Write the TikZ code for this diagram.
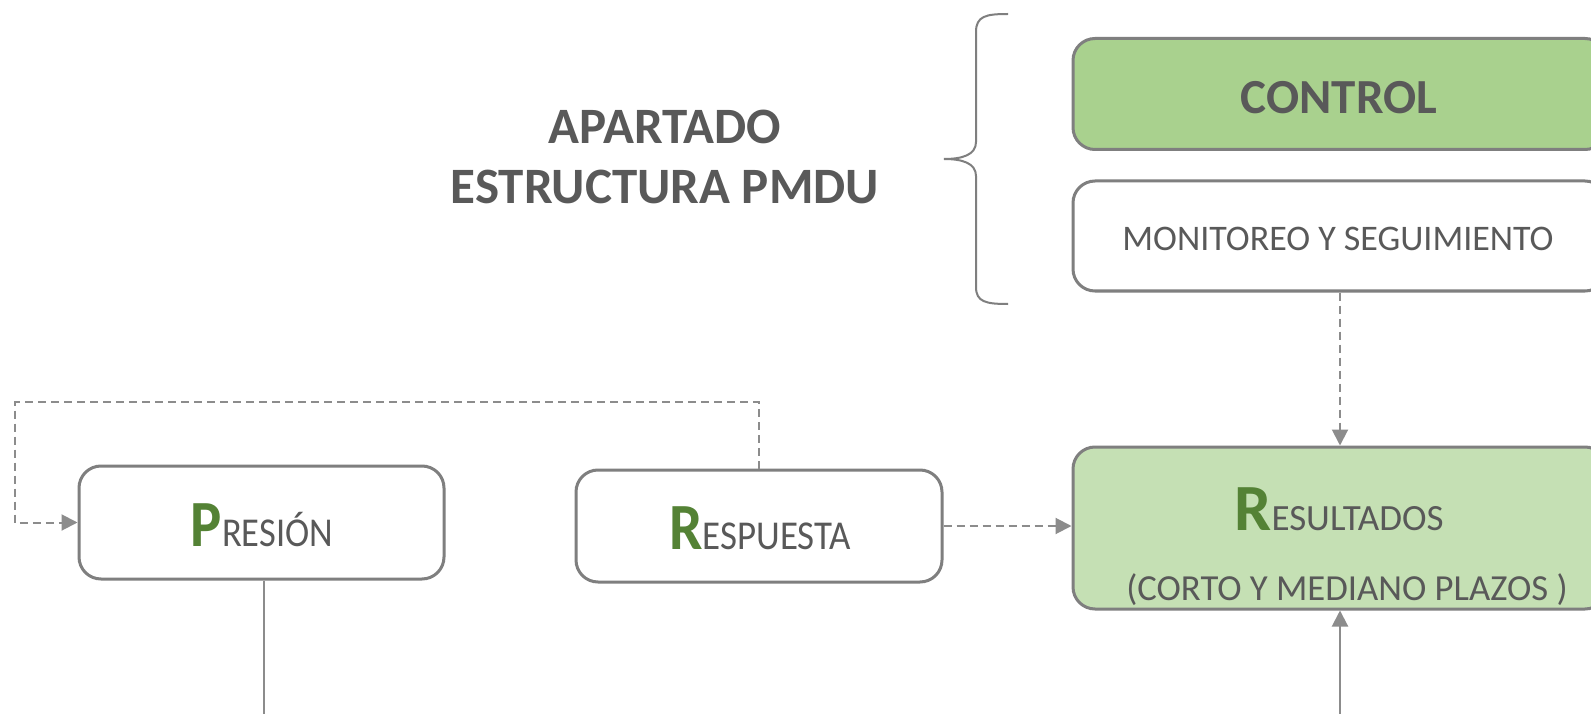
\documentclass[tikz,border=0pt]{standalone}
\usepackage{fontspec}
\setmainfont{Carlito}
\usetikzlibrary{arrows.meta,calc}
\definecolor{txtgray}{HTML}{595959}
\definecolor{linegray}{HTML}{8C8C8C}
\definecolor{boxgray}{HTML}{7F7F7F}
\definecolor{pgreen}{HTML}{548235}
\definecolor{ctrlfill}{HTML}{A9D18E}
\definecolor{resfill}{HTML}{C5E0B4}
\tikzset{
  box/.style={draw=boxgray, line width=3pt, rounded corners=22pt, inner sep=0pt},
  dashline/.style={draw=linegray, line width=2pt, dash pattern=on 8pt off 5pt},
  solidline/.style={draw=linegray, line width=2pt},
  tip/.style={-{Triangle[length=16pt,width=16pt]}},
  lbl/.style={text=txtgray, anchor=base, inner sep=0pt},
}
\newcommand{\biglet}[1]{{\color{pgreen}\fontsize{66}{66}\selectfont\bfseries #1}}
\begin{document}
\begin{tikzpicture}[x=1pt,y=-1pt]
\useasboundingbox (0,0) rectangle (1591,714);
\clip (0,0) rectangle (1591,714);
\fill[white] (0,0) rectangle (1591,714);
% boxes
\node[box, fill=ctrlfill, minimum width=534pt, minimum height=111pt] (ctrl) at (1340,94) {};
\node[box, fill=white, minimum width=534pt, minimum height=110pt] (mon) at (1340,236) {};
\node[box, fill=white, minimum width=365pt, minimum height=113pt] (pres) at (261.5,522.5) {};
\node[box, fill=white, minimum width=366pt, minimum height=112pt] (resp) at (759,526) {};
\node[box, fill=resfill, minimum width=534pt, minimum height=162pt] (res) at (1340,528) {};
% texts
\node[lbl, font=\fontsize{51}{51}\selectfont\bfseries] (t1) at (665,144) {APARTADO};
\node[lbl, font=\fontsize{51}{51}\selectfont\bfseries] (t2) at (665,204) {ESTRUCTURA PMDU};
\node[lbl, font=\fontsize{49}{49}\selectfont\bfseries] (tc) at (1339,114) {CONTROL};
\node[lbl, font=\fontsize{36}{36}\selectfont] (tm) at (1338,251) {MONITOREO Y SEGUIMIENTO};
\node[lbl, font=\fontsize{41}{41}\selectfont] (tp) at (262,546) {\scalebox{0.89}[1]{\biglet{P}RESIÓN}};
\node[lbl, font=\fontsize{41}{41}\selectfont] (tr) at (760,549) {\scalebox{0.9}[1]{\biglet{R}ESPUESTA}};
\node[lbl, font=\fontsize{37}{37}\selectfont] (ts) at (1339,530) {\biglet{R}ESULTADOS};
\node[lbl, font=\fontsize{36.7}{37}\selectfont] (ts2) at (1347,600) {(CORTO Y MEDIANO PLAZOS )};
% brace
\draw[draw=boxgray, line width=2pt] (1008,14) .. controls (986,14) and (976,16) .. (976,32) -- (976,142) .. controls (976,155) and (962,159) .. (944,159) .. controls (962,159) and (976,163) .. (976,176) -- (976,287) .. controls (976,302) and (986,304) .. (1008,304);
% connectors
\coordinate (c1) at (15,402);
\draw[dashline, tip, linegray] (resp.north) |- (c1) |- (pres.west);
\draw[dashline, tip, linegray] (resp.east) -- (resp.east -| res.west);
\draw[dashline, tip, linegray] (mon.south) -- (res.north);
\coordinate (pb) at (264,720);
\draw[solidline] (pres.south -| pb) -- (pb);
\coordinate (rb) at (1340,720);
\draw[solidline, tip, linegray] (rb) -- (res.south);
\end{tikzpicture}
\end{document}
